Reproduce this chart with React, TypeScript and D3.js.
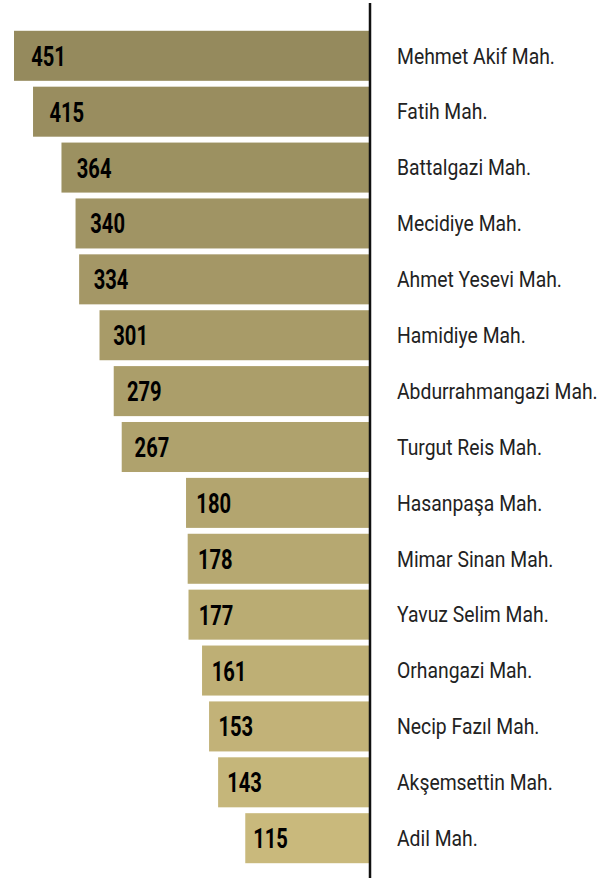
import React, { useEffect, useRef } from 'react';
import * as d3 from 'd3';

const districts = [
  'Mehmet Akif Mah.',
  'Fatih Mah.',
  'Battalgazi Mah.',
  'Mecidiye Mah.',
  'Ahmet Yesevi Mah.',
  'Hamidiye Mah.',
  'Abdurrahmangazi Mah.',
  'Turgut Reis Mah.',
  'Hasanpaşa Mah.',
  'Mimar Sinan Mah.',
  'Yavuz Selim Mah.',
  'Orhangazi Mah.',
  'Necip Fazıl Mah.',
  'Akşemsettin Mah.',
  'Adil Mah.',
];
const counts = [451, 415, 364, 340, 334, 301, 279, 267, 180, 178, 177, 161, 153, 143, 115];

const WIDTH = 613;
const HEIGHT = 878;

export default function App() {
  const svgRef = useRef<SVGSVGElement>(null);

  useEffect(() => {
    const svg = d3.select(svgRef.current);
    svg.selectAll('*').remove();

    const axisX = 370;
    const barRight = 369;

    // bars grow leftwards from the axis
    const w = d3.scaleSqrt().domain([26, d3.max(counts) as number]).range([0, 355]);
    const y = d3.scaleBand<string>().domain(districts).range([28, 866]).paddingInner(0.105).paddingOuter(0.05);
    const color = d3.scaleLinear<string>()
      .domain([0, districts.length - 1])
      .range(['#958a5d', '#c9b97c'])
      .interpolate(d3.interpolateRgb);

    const rows = districts.map((name, i) => ({ name, value: counts[i], i }));

    const g = svg.append('g');

    g.selectAll('rect')
      .data(rows).enter().append('rect')
      .attr('x', d => barRight - w(d.value))
      .attr('y', d => y(d.name) as number)
      .attr('width', d => w(d.value))
      .attr('height', y.bandwidth())
      .attr('fill', d => color(d.i));

    const font = 'Roboto, "DejaVu Sans Condensed", sans-serif';

    // condensed look: squeeze text horizontally
    g.selectAll('text.val')
      .data(rows).enter().append('text')
      .attr('class', 'val')
      .attr('transform', d => {
        const bw = w(d.value);
        const tx = barRight - bw + 3 + 0.04 * bw;
        const ty = (y(d.name) as number) + y.bandwidth() / 2 + 10;
        return `translate(${tx},${ty}) scale(0.72,1)`;
      })
      .attr('font-family', font)
      .attr('font-weight', 'bold')
      .attr('font-size', 28)
      .attr('fill', '#000')
      .text(d => d.value);

    g.selectAll('text.lbl')
      .data(rows).enter().append('text')
      .attr('class', 'lbl')
      .attr('transform', d => `translate(397,${(y(d.name) as number) + y.bandwidth() / 2 + 7.8}) scale(0.86,1)`)
      .attr('font-family', font)
      .attr('font-size', 22.5)
      .attr('fill', '#222')
      .text(d => d.name);

    svg.append('line')
      .attr('x1', axisX).attr('x2', axisX)
      .attr('y1', 3).attr('y2', HEIGHT)
      .attr('stroke', '#111')
      .attr('stroke-width', 2.5);
  }, []);

  return (
    <svg
      ref={svgRef}
      width={WIDTH}
      height={HEIGHT}
      style={{ position: 'absolute', left: 0, top: 0, background: 'white' }}
    />
  );
}
